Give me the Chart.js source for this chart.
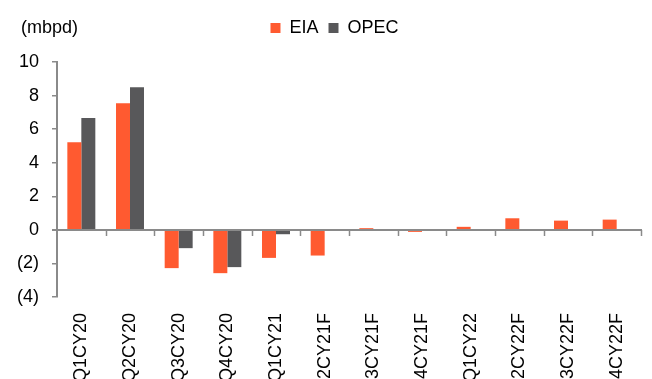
<!DOCTYPE html>
<html>
<head>
<meta charset="utf-8">
<script src="https://cdn.jsdelivr.net/npm/chart.js@4"></script>
<style>
  html, body { margin: 0; padding: 0; background: #fff; overflow: hidden; }
  #wrap { width: 652px; height: 379px; }
</style>
</head>
<body>
<div id="wrap"><canvas id="c" width="652" height="379"></canvas></div>
<script>
// Quarterly supply/demand balance estimates (mbpd)
const quarters = ['Q1CY20', 'Q2CY20', 'Q3CY20', 'Q4CY20', 'Q1CY21', 'Q2CY21F',
                  'Q3CY21F', 'Q4CY21F', 'Q1CY22', 'Q2CY22F', 'Q3CY22F', 'Q4CY22F'];
const eiaValues  = [5.22, 7.54, -2.28, -2.58, -1.67, -1.53, 0.1, -0.12, 0.18, 0.69, 0.55, 0.61];
const opecValues = [6.67, 8.49, -1.09, -2.22, -0.26, null, null, null, null, null, null, null];
const yTicks = [-4, -2, 0, 2, 4, 6, 8, 10];

const FONT = "'Liberation Sans', Arial, sans-serif";
const FSIZE = 18;
const AXIS = '#8a8a8a';

// Baseline at zero with downward tick marks between categories,
// the unit caption at top left, and legend placement on the caption row.
const zeroAxis = {
  id: 'zeroAxis',
  afterLayout(chart) {
    const lg = chart.legend;
    if (lg) {
      lg.left += 14; lg.right += 14;
      lg.top -= 15; lg.bottom -= 15;
    }
  },
  afterDatasetsDraw(chart) {
    const { ctx, chartArea, scales } = chart;
    const x = scales.x, y = scales.y;
    const y0 = Math.round(y.getPixelForValue(0));
    ctx.save();
    ctx.strokeStyle = AXIS;
    ctx.lineWidth = 2;
    ctx.beginPath();
    ctx.moveTo(chartArea.left - 5, y0);
    ctx.lineTo(chartArea.right + 1, y0);
    ctx.stroke();
    const n = quarters.length;
    const step = (chartArea.right - chartArea.left) / n;
    ctx.lineWidth = 1.5;
    for (let i = 1; i <= n; i++) {
      const px = Math.round(x.getPixelForValue(i - 1) + step / 2) + 0.5;
      ctx.beginPath();
      ctx.moveTo(px, y0);
      ctx.lineTo(px, y0 + 6);
      ctx.stroke();
    }
    ctx.restore();
  },
  afterDraw(chart) {
    const { ctx } = chart;
    ctx.save();
    ctx.fillStyle = '#000';
    ctx.font = FSIZE + 'px ' + FONT;
    ctx.textAlign = 'left';
    ctx.textBaseline = 'middle';
    ctx.fillText('(mbpd)', 21, 28);
    ctx.restore();
  }
};

new Chart(document.getElementById('c'), {
  type: 'bar',
  data: {
    labels: quarters,
    datasets: [
      { label: 'EIA',  data: eiaValues,  backgroundColor: '#FF5A30', borderWidth: 0 },
      { label: 'OPEC', data: opecValues, backgroundColor: '#58585A', borderWidth: 0 }
    ]
  },
  options: {
    responsive: false,
    animation: false,
    devicePixelRatio: 1,
    categoryPercentage: 0.575,
    barPercentage: 1.0,
    layout: { padding: { left: 0, right: 11, top: 24, bottom: 0 } },
    plugins: {
      tooltip: { enabled: false },
      legend: {
        position: 'top',
        align: 'center',
        labels: {
          boxWidth: 10,
          boxHeight: 10,
          padding: 10,
          color: '#000',
          font: { family: FONT, size: FSIZE }
        }
      }
    },
    scales: {
      x: {
        grid: { display: false },
        border: { display: false },
        ticks: {
          color: '#000',
          font: { family: FONT, size: FSIZE },
          minRotation: 90,
          maxRotation: 90,
          autoSkip: false,
          padding: 8
        },
        afterFit(scale) { scale.height = 82; }
      },
      y: {
        min: -4,
        max: 10,
        afterBuildTicks(scale) { scale.ticks = yTicks.map(v => ({ value: v })); },
        grid: { drawOnChartArea: false, drawTicks: true, tickLength: 5, color: AXIS, lineWidth: 1.5 },
        border: { display: true, color: AXIS, width: 2 },
        ticks: {
          color: '#000',
          font: { family: FONT, size: FSIZE },
          padding: 13,
          callback: v => v < 0 ? '(' + Math.abs(v) + ')' : String(v)
        },
        afterFit(scale) { scale.width = 57; }
      }
    }
  },
  plugins: [zeroAxis]
});
</script>
</body>
</html>
